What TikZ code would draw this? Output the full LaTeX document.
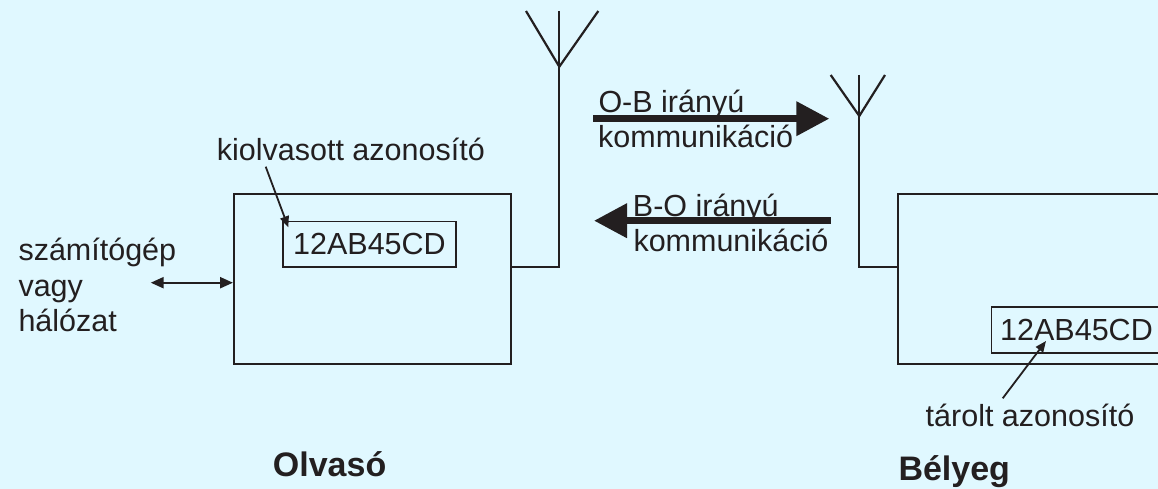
\documentclass[tikz,border=0pt]{standalone}
\usepackage{fontspec}
\setmainfont{Liberation Sans}
\usetikzlibrary{arrows.meta}
\definecolor{bg}{RGB}{224,248,255}
\definecolor{ink}{RGB}{35,31,32}
\begin{document}
\begin{tikzpicture}[x=1pt,y=-1pt,
  box/.style={draw=ink, line width=2.2pt, inner sep=0pt, anchor=north west},
  idbox/.style={draw=ink, line width=1.6pt, inner sep=0pt, anchor=north west,
    text=ink, font=\fontsize{30.5}{36}\selectfont},
  txt/.style={inner sep=0pt, anchor=base west, text=ink,
    font=\fontsize{30.5}{36}\selectfont},
  title/.style={txt, font=\bfseries\fontsize{34}{40}\selectfont},
  wire/.style={draw=ink, line width=2.2pt},
  pointer/.style={draw=ink, line width=1.8pt, -{Triangle[length=11pt,width=9pt]}},
  duplex/.style={draw=ink, line width=2.2pt,
    {Triangle[length=13pt,width=11pt]}-{Triangle[length=13pt,width=11pt]}},
  bigarrow/.style={draw=ink, line width=7pt, -{Triangle[length=33pt,width=33pt]}}
]
\fill[bg] (0,0) rectangle (1158,489);
\useasboundingbox (0,0) rectangle (1158,489);

% reader and tag housings
\node[box, minimum width=277pt, minimum height=170pt] (reader) at (233,192.7) {};
\node[box, minimum width=300pt, minimum height=170pt] (tag) at (896.7,192.7) {};

% identifier registers
\node[idbox, minimum width=172.7pt, minimum height=45.3pt] (rid) at (282.3,220.7) {12AB45CD};
\node[idbox, minimum width=170pt, minimum height=46pt] (tid) at (990.7,306) {12AB45CD};

% reader antenna
\coordinate (la-top) at (559.3,11);
\coordinate (la-l) at (526,11);
\coordinate (la-r) at (598.3,11);
\coordinate (la-apex) at (559.3,66.7);
\coordinate (la-bot) at (559.3,266.7);
\draw[wire] (la-l) -- (la-apex) -- (la-r);
\draw[wire] (la-top) -- (la-bot) -- (reader.east |- la-bot);

% tag antenna
\coordinate (ta-top) at (859.3,75);
\coordinate (ta-l) at (830.7,75);
\coordinate (ta-r) at (885,75);
\coordinate (ta-apex) at (859.3,116);
\coordinate (ta-bot) at (859.3,266.7);
\draw[wire] (ta-l) -- (ta-apex) -- (ta-r);
\draw[wire] (ta-top) -- (ta-bot) -- (tag.west |- ta-bot);

% radio links
\coordinate (ob-start) at (593.3,118.7);
\coordinate (ob-end) at (829.3,118.7);
\coordinate (bo-start) at (830.7,220.7);
\coordinate (bo-end) at (594,220.7);
\draw[bigarrow] (ob-start) -- (ob-end);
\draw[bigarrow] (bo-start) -- (bo-end);

\node[txt] (ob1) at (598.3,112.7) {O-B irányú};
\node[txt] (ob2) at (598,147.3) {kommunikáció};
\node[txt] (bo1) at (632.7,216.7) {B-O irányú};
\node[txt] (bo2) at (633.3,251.7) {kommunikáció};

% host connection
\node[txt] (pc1) at (18.3,260.7) {számítógép};
\node[txt] (pc2) at (18.3,296.7) {vagy};
\node[txt] (pc3) at (18.3,331.7) {hálózat};
\coordinate (net) at (150.7,282.7);
\draw[duplex] (net) -- (reader.west |- net);

% identifier callouts
\node[txt] (readlbl) at (216.7,160.7) {kiolvasott azonosító};
\coordinate (read-tail) at (265.7,166.7);
\coordinate (read-tip) at (288.3,227.3);
\draw[pointer] (read-tail) -- (read-tip);

\node[txt] (storelbl) at (925.5,426.5) {tárolt azonosító};
\coordinate (store-tail) at (1002.7,398.3);
\coordinate (store-tip) at (1046,341);
\draw[pointer] (store-tail) -- (store-tip);

% captions
\node[title] (olv) at (272.7,476.7) {Olvasó};
\node[title] (bel) at (898.3,480.7) {Bélyeg};
\end{tikzpicture}
\end{document}
